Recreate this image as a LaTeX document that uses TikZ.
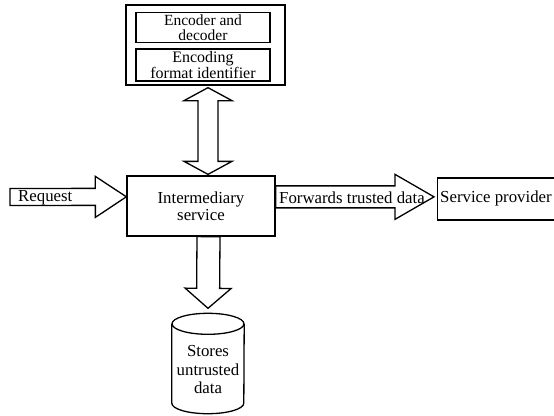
\documentclass[tikz,border=0pt]{standalone}
\usepackage{fontspec}
\setmainfont{Liberation Serif}
\usetikzlibrary{calc}
\tikzset{
  ln/.style={line width=1.3pt, line join=miter},
  box/.style={ln, draw, rectangle, inner sep=0pt, align=center},
  blk/.style={ln, draw, fill=white},
  txt/.style={inner sep=3pt, align=center},
}
\newcommand{\blockarrow}[5]{%
  \coordinate (bah) at ($(#2)!#5!(#1)$);
  \draw[blk] ($(#1)!#3!90:(#2)$) -- ($(bah)!#3!90:(#2)$) -- ($(bah)!#4!90:(#2)$) -- (#2)
    -- ($(bah)!#4!-90:(#2)$) -- ($(bah)!#3!-90:(#2)$) -- ($(#1)!#3!-90:(#2)$) -- cycle;}
\begin{document}
\begin{tikzpicture}[x=1pt,y=1pt,font=\fontsize{16.8}{17}\selectfont]
\useasboundingbox (0,0) rectangle (554,-415);
% top group
\node[box, minimum width=159, minimum height=80] (codec) at (205.5,-45) {};
\node[box, minimum width=134, minimum height=30, font=\fontsize{15.5}{15.5}\selectfont] (enc) at (203,-27.5) {Encoder and\\decoder};
\node[box, minimum width=134, minimum height=32, font=\fontsize{16}{16}\selectfont] (fmt) at (203,-65) {Encoding\\format identifier};
% intermediary
\node[box, minimum width=148, minimum height=60] (inter) at (201,-206) {Intermediary\\service};
% service provider
\node[box, anchor=west, minimum width=130, minimum height=42] (svc) at (437,-199) {};
\node[txt, anchor=west] (svctxt) at (437,-198) {Service provider};
% store
\node[minimum width=72, minimum height=100, inner sep=0pt] (store) at (208,-363.5) {};
\draw[ln] ($(store.north)+(0,-10.5)$) ellipse [x radius=36, y radius=10.5];
\draw[ln] ($(store.north west)+(0,-10.5)$) -- ($(store.south west)+(0,10.5)$)
   arc[start angle=180, end angle=360, x radius=36, y radius=10.5] -- ($(store.north east)+(0,-10.5)$);
\node[txt, font=\fontsize{16.8}{18.5}\selectfont] (storetxt) at (208,-370) {Stores\\untrusted\\data};
% request arrow
\coordinate (reqS) at (10,-197);
\coordinate (reqT) at ($(inter.north west)!0.35!(inter.south west)$);
\blockarrow{reqS}{reqT}{8.5pt}{20.5pt}{31pt}
\node[txt, anchor=west] (reqtxt) at (15,-197.5) {Request};
% forward arrow
\coordinate (fwdS) at ($(inter.north east)+(0,-21.5)$);
\coordinate (fwdT) at ($(svc.west |- fwdS)+(-3,0)$);
\blockarrow{fwdS}{fwdT}{11pt}{22.5pt}{39pt}
\node[txt, anchor=west] (fwdtxt) at (276,-198) {Forwards trusted data};
% down arrow to store
\coordinate (botS) at ($(inter.south)+(7.5,0)$);
\coordinate (botT) at ($(store.north)+(0,5)$);
\blockarrow{botS}{botT}{11.5pt}{23pt}{20pt}
% double arrow
\coordinate (dT) at ($(codec.south)+(2.5,-2)$);
\coordinate (dB) at ($(inter.north)+(7,1)$);
\coordinate (hT) at ($(dT)!13pt!(dB)$);
\coordinate (hB) at ($(dB)!13pt!(dT)$);
\draw[blk] (dT) -- ($(hT)!24pt!90:(dB)$) -- ($(hT)!10pt!90:(dB)$) -- ($(hB)!10pt!-90:(dT)$)
  -- ($(hB)!24pt!-90:(dT)$) -- (dB) -- ($(hB)!24pt!90:(dT)$) -- ($(hB)!10pt!90:(dT)$)
  -- ($(hT)!10pt!-90:(dB)$) -- ($(hT)!24pt!-90:(dB)$) -- cycle;
\end{tikzpicture}
\end{document}
